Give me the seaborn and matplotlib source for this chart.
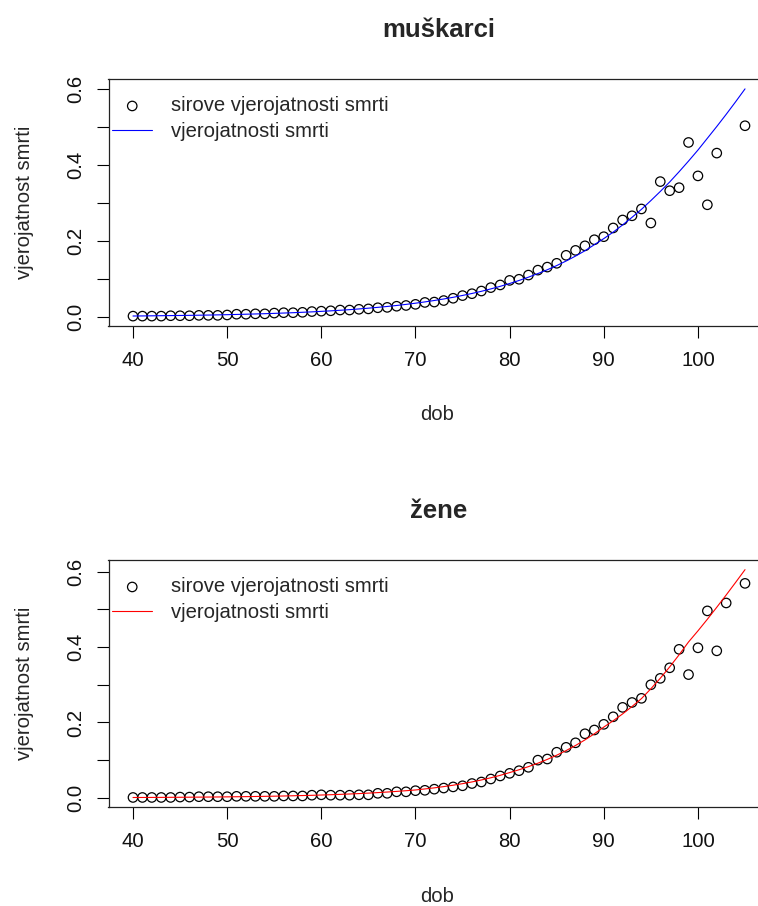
import numpy as np
import pandas as pd
import matplotlib
matplotlib.use('Agg')
import matplotlib.pyplot as plt
import seaborn as sns

nan = np.nan
ages = list(range(40, 106))

# sirove (raw) vjerojatnosti smrti - muskarci
raw_m = [0.002, 0.002, 0.002, 0.002, 0.003, 0.003, 0.003, 0.004, 0.004, 0.004,
         0.005, 0.007, 0.007, 0.008, 0.008, 0.010, 0.011, 0.011, 0.012, 0.014,
         0.015, 0.016, 0.018, 0.018, 0.020, 0.021, 0.024, 0.025, 0.028, 0.030,
         0.033, 0.038, 0.039, 0.043, 0.049, 0.056, 0.061, 0.068, 0.077, 0.084,
         0.096, 0.099, 0.110, 0.123, 0.131, 0.141, 0.162, 0.175, 0.187, 0.203,
         0.211, 0.234, 0.255, 0.266, 0.284, 0.247, 0.356, 0.332, 0.340, 0.459,
         0.371, 0.295, 0.431, nan, nan, 0.503]

# izgladene vjerojatnosti smrti - muskarci
fit_m = [0.0023, 0.0025, 0.0028, 0.0031, 0.0034, 0.0037, 0.0040, 0.0044, 0.0048, 0.0053,
         0.0058, 0.0064, 0.0070, 0.0077, 0.0084, 0.0092, 0.0101, 0.0110, 0.0121, 0.0132,
         0.0145, 0.0159, 0.0174, 0.0190, 0.0209, 0.0229, 0.0251, 0.0274, 0.0300, 0.0329,
         0.0360, 0.0394, 0.0431, 0.0471, 0.0515, 0.0564, 0.0616, 0.0673, 0.0736, 0.0804,
         0.0878, 0.0958, 0.1045, 0.114, 0.124, 0.135, 0.147, 0.160, 0.174, 0.190,
         0.206, 0.223, 0.242, 0.262, 0.283, 0.306, 0.330, 0.355, 0.382, 0.410,
         0.439, 0.470, 0.501, 0.533, 0.566, 0.600]

# sirove vjerojatnosti smrti - zene
raw_z = [0.001, 0.001, 0.001, 0.001, 0.001, 0.002, 0.002, 0.003, 0.003, 0.003,
         0.003, 0.004, 0.004, 0.004, 0.004, 0.004, 0.005, 0.005, 0.005, 0.007,
         0.008, 0.007, 0.007, 0.007, 0.008, 0.008, 0.012, 0.012, 0.016, 0.016,
         0.019, 0.020, 0.023, 0.026, 0.029, 0.032, 0.038, 0.042, 0.050, 0.058,
         0.065, 0.072, 0.081, 0.100, 0.103, 0.121, 0.134, 0.146, 0.170, 0.180,
         0.195, 0.215, 0.240, 0.253, 0.264, 0.300, 0.317, 0.345, 0.394, 0.327,
         0.398, 0.496, 0.390, 0.517, nan, 0.569]

# izgladene vjerojatnosti smrti - zene
fit_z = [0.0009, 0.0010, 0.0011, 0.0012, 0.0014, 0.0015, 0.0017, 0.0019, 0.0021, 0.0023,
         0.0026, 0.0029, 0.0032, 0.0036, 0.0040, 0.0044, 0.0049, 0.0055, 0.0061, 0.0067,
         0.0075, 0.0083, 0.0092, 0.0102, 0.0113, 0.0125, 0.0139, 0.0154, 0.0171, 0.0189,
         0.0209, 0.0236, 0.0265, 0.0298, 0.0335, 0.0376, 0.0422, 0.0474, 0.0532, 0.0597,
         0.0670, 0.0745, 0.0828, 0.0919, 0.1020, 0.1131, 0.1254, 0.1389, 0.1537, 0.1699,
         0.1877, 0.2045, 0.2227, 0.2423, 0.2633, 0.2893, 0.3173, 0.3474, 0.3795, 0.4135,
         0.4430, 0.4738, 0.5056, 0.5382, 0.5715, 0.6054]

titles = ['muškarci', 'žene']
line_colors = ['blue', 'red']
x_ticks = [40, 50, 60, 70, 80, 90, 100]
y_ticks = [0.0, 0.1, 0.2, 0.3, 0.4, 0.5, 0.6]
y_labels = ['0.0', '', '0.2', '', '0.4', '', '0.6']

sns.set_style('ticks')
plt.rcParams['font.family'] = ['Liberation Sans', 'DejaVu Sans']

W, H = 758, 906
fig = plt.figure(figsize=(W / 100, H / 100), dpi=100)

# axes boxes in pixels: (left, top, right, bottom)
boxes = [(108.5, 79, 769.5, 326), (108.5, 560, 769.5, 807)]
ylims = [(-0.024, 0.626), (-0.0243, 0.631)]
panels = [(raw_m, fit_m), (raw_z, fit_z)]

for i, (raw, fit) in enumerate(panels):
    l, t, r, b = boxes[i]
    ax = fig.add_axes([l / W, 1 - b / H, (r - l) / W, (b - t) / H])
    df = pd.DataFrame({'dob': ages, 'raw': raw, 'fit': fit})

    sns.scatterplot(data=df, x='dob', y='raw', ax=ax, marker='o', s=46,
                    facecolors='none', edgecolors='black', linewidths=0.9,
                    label='sirove vjerojatnosti smrti')
    sns.lineplot(data=df, x='dob', y='fit', ax=ax, color=line_colors[i],
                 linewidth=0.8, label='vjerojatnosti smrti')

    ax.set_xlim(37.4, 107.6)
    ax.set_ylim(*ylims[i])
    ax.set_xticks(x_ticks)
    ax.set_yticks(y_ticks)
    ax.set_yticklabels(y_labels)
    ax.tick_params(axis='both', direction='out', length=8.6, width=0.8,
                   color='black', labelsize=14.6, labelcolor='#111111')
    ax.tick_params(axis='x', pad=9.5)
    ax.tick_params(axis='y', pad=8, labelrotation=90)
    for lab in ax.get_yticklabels():
        lab.set_va('center')
    for sp in ax.spines.values():
        sp.set_color('#222222')
        sp.set_linewidth(0.9)
    ax.spines['right'].set_visible(False)
    ax.set_xlabel('')
    ax.set_ylabel('')

    handles, labels = ax.get_legend_handles_labels()
    ax.legend(handles, labels, loc='upper left', bbox_to_anchor=(0.006, 0.93),
              frameon=False, fontsize=14.6, borderaxespad=0, borderpad=0,
              handlelength=1.95, handletextpad=0.95, labelspacing=0.32)

    fig.text(439 / W, 1 - (t - 49) / H, titles[i], ha='center', va='center',
             fontsize=18.5, fontweight='bold')
    fig.text(437 / W, 1 - (b + 89) / H, 'dob', ha='center', va='center', fontsize=14.6)
    fig.text(25 / W, 1 - ((t + b) / 2) / H, 'vjerojatnost smrti', ha='center',
             va='center', rotation=90, fontsize=14.6)

fig.savefig('out.png', dpi=100)
